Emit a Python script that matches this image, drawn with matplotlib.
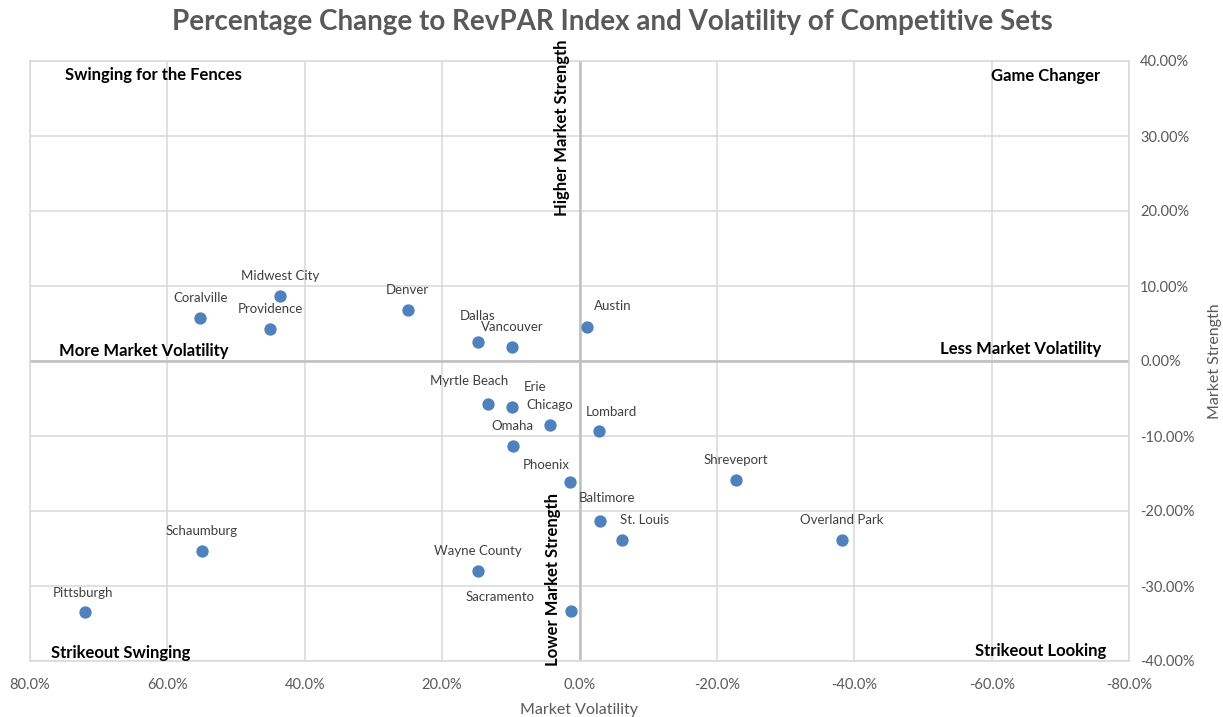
import matplotlib.pyplot as plt
from matplotlib.ticker import FuncFormatter, MultipleLocator

FIGSIZE: tuple[float, float] = (12.23, 7.17)
DPI: int = 100
FONT: str = "Lato"
POINT_COLOR: str = "#4F81BD"
GRID_COLOR: str = "#D9D9D9"
AXIS_COLOR: str = "#BFBFBF"
TEXT_GRAY: str = "#595959"
LABEL_GRAY: str = "#404040"

# market volatility (%), market strength (%)
CITIES: list[str] = [
    "Midwest City", "Coralville", "Providence", "Denver", "Dallas",
    "Vancouver", "Austin", "Myrtle Beach", "Erie", "Chicago", "Lombard",
    "Omaha", "Phoenix", "Shreveport", "Baltimore", "St. Louis",
    "Overland Park", "Schaumburg", "Wayne County", "Pittsburgh", "Sacramento",
]
VOLATILITY: list[float] = [
    43.6, 55.2, 45.0, 25.0, 14.8,
    9.8, -1.1, 13.3, 9.8, 4.3, -2.8,
    9.7, 1.4, -22.8, -3.0, -6.2,
    -38.2, 55.0, 14.8, 72.0, 1.2,
]
STRENGTH: list[float] = [
    8.7, 5.7, 4.3, 6.8, 2.5,
    1.9, 4.5, -5.7, -6.1, -8.5, -9.3,
    -11.3, -16.1, -15.9, -21.3, -23.9,
    -23.9, -25.3, -28.0, -33.5, -33.3,
]

# label offsets in pixels (dx, dy) relative to each point
LABEL_OFFSETS: dict[str, tuple[int, int]] = {
    "Dallas": (0, 26),
    "Austin": (26, 21),
    "Myrtle Beach": (-19, 23),
    "Erie": (23, 20),
    "Lombard": (13, 19),
    "Phoenix": (-24, 17),
    "Baltimore": (7, 23),
    "St. Louis": (22, 20),
    "Pittsburgh": (-2, 19),
    "Sacramento": (-71, 14),
}

QUADRANT_LABELS: list[tuple[str, int, int, str]] = [
    ("Swinging for the Fences", 65, 75, "left"),
    ("Game Changer", 1100, 76, "right"),
    ("More Market Volatility", 59, 351, "left"),
    ("Less Market Volatility", 1101, 349, "right"),
    ("Strikeout Swinging", 51, 653, "left"),
    ("Strikeout Looking", 1106, 651, "right"),
]


def pct_x(x: float, _) -> str:
    return f"{x:.1f}%"


def pct_y(y: float, _) -> str:
    return f"{y:.2f}%"


def main() -> None:
    plt.rcParams["font.family"] = [FONT, "DejaVu Sans"]

    fig = plt.figure(figsize=FIGSIZE, dpi=DPI)
    ax = fig.add_axes([30 / 1223, 1 - 661 / 717, 1099 / 1223, 600 / 717])

    ax.set_xlim(80, -80)
    ax.set_ylim(-40, 40)
    ax.xaxis.set_major_locator(MultipleLocator(20))
    ax.yaxis.set_major_locator(MultipleLocator(10))
    ax.xaxis.set_major_formatter(FuncFormatter(pct_x))
    ax.yaxis.set_major_formatter(FuncFormatter(pct_y))
    ax.yaxis.tick_right()
    ax.yaxis.set_label_position("right")
    ax.tick_params(axis="both", length=0, labelsize=10.5, labelcolor=TEXT_GRAY)
    ax.tick_params(axis="x", pad=12)
    ax.tick_params(axis="y", pad=8)

    ax.grid(True, color=GRID_COLOR, linewidth=1.1)
    ax.set_axisbelow(True)
    for spine in ax.spines.values():
        spine.set_color(GRID_COLOR)
        spine.set_linewidth(1.1)

    ax.axhline(0, color=AXIS_COLOR, linewidth=1.8, zorder=1)
    ax.axvline(0, color=AXIS_COLOR, linewidth=1.8, zorder=1)

    ax.scatter(VOLATILITY, STRENGTH, s=62, color=POINT_COLOR, zorder=3)

    for name, x, y in zip(CITIES, VOLATILITY, STRENGTH):
        dx, dy = LABEL_OFFSETS.get(name, (0, 20))
        ax.annotate(
            name, (x, y), xytext=(dx, dy), textcoords="offset pixels",
            ha="center", va="center", fontsize=9.5, color=LABEL_GRAY,
        )

    quad_kw = dict(fontsize=12, fontweight="bold", color="black")
    for label, px, py, ha in QUADRANT_LABELS:
        fig.text(px / 1223, 1 - py / 717, label, ha=ha, va="center", **quad_kw)

    fig.text(562 / 1223, 1 - 128 / 717, "Higher Market Strength", rotation=90,
             ha="center", va="center", **quad_kw)
    fig.text(553 / 1223, 1 - 579 / 717, "Lower Market Strength", rotation=90,
             ha="center", va="center", **quad_kw)

    ax.set_xlabel("Market Volatility", fontsize=11.5, color=TEXT_GRAY, labelpad=8)
    ax.set_ylabel("Market Strength", fontsize=11.5, color=TEXT_GRAY, labelpad=10)

    fig.text(
        612 / 1223, 1 - 22 / 717,
        "Percentage Change to RevPAR Index and Volatility of Competitive Sets",
        ha="center", va="center", fontsize=20, fontweight="bold", color=TEXT_GRAY,
    )

    fig.savefig("out.png", dpi=DPI)
    plt.close(fig)


if __name__ == "__main__":
    main()
